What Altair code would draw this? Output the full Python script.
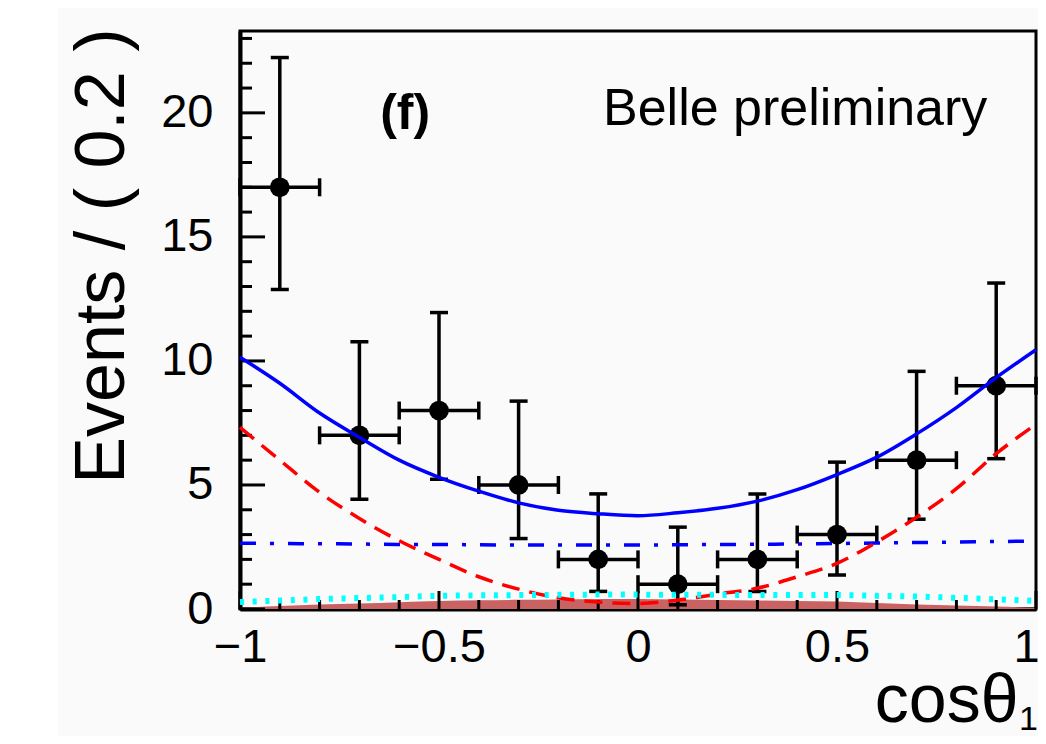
import altair as alt
import pandas as pd

# ---- data ----
bin_centers = [-0.9, -0.7, -0.5, -0.3, -0.1, 0.1, 0.3, 0.5, 0.7, 0.9]
counts = [17, 7, 8, 5, 2, 1, 2, 3, 6, 9]
err_low = [12.88, 4.42, 5.23, 2.84, 0.71, 0.17, 0.71, 1.37, 3.62, 6.06]
err_high = [22.23, 10.77, 11.95, 8.38, 4.64, 3.30, 4.64, 5.92, 9.58, 13.14]
bin_half_width = 0.1

curve_x = [-1.0, -0.9, -0.8, -0.7, -0.6, -0.5, -0.4, -0.3, -0.2, -0.1, 0.0,
           0.1, 0.2, 0.3, 0.4, 0.5, 0.6, 0.7, 0.8, 0.9, 1.0]
total_fit = [10.15, 9.1, 7.9, 6.92, 6.0, 5.31, 4.75, 4.28, 3.98, 3.84, 3.76,
             3.88, 4.06, 4.35, 4.81, 5.42, 6.12, 7.06, 8.12, 9.33, 10.45]
signal_red = [7.32, 6.0, 4.7, 3.65, 2.75, 2.0, 1.3, 0.8, 0.45, 0.28, 0.22,
              0.36, 0.6, 0.84, 1.3, 1.84, 2.7, 3.7, 4.85, 6.26, 7.45]
flat_blue = [2.65, 2.64, 2.63, 2.62, 2.6, 2.6, 2.59, 2.58, 2.58, 2.58, 2.58,
             2.59, 2.6, 2.61, 2.62, 2.64, 2.66, 2.68, 2.7, 2.72, 2.74]
cyan_dotted = [0.28, 0.34, 0.4, 0.44, 0.48, 0.53, 0.55, 0.56, 0.57, 0.58, 0.58,
               0.57, 0.57, 0.56, 0.56, 0.56, 0.53, 0.5, 0.45, 0.39, 0.33]
brown_fill = [0.05, 0.12, 0.18, 0.22, 0.27, 0.32, 0.35, 0.37, 0.38, 0.4, 0.4,
              0.38, 0.36, 0.34, 0.32, 0.3, 0.24, 0.18, 0.14, 0.1, 0.04]

x_major = [-1.0, -0.5, 0.0, 0.5, 1.0]
x_minor = [-0.9, -0.8, -0.7, -0.6, -0.4, -0.3, -0.2, -0.1,
           0.1, 0.2, 0.3, 0.4, 0.6, 0.7, 0.8, 0.9]
y_major = [0, 5, 10, 15, 20]
y_minor = [1, 2, 3, 4, 6, 7, 8, 9, 11, 12, 13, 14, 16, 17, 18, 19, 21, 22, 23]

labels_text = ["(f)", "Belle preliminary"]
labels_x = [-0.585, -0.088]
labels_y = [19.35, 19.5]

# ---- tables ----
pts = pd.DataFrame({"x": bin_centers, "y": counts, "lo": err_low, "hi": err_high})
pts["xl"] = pts["x"] - bin_half_width
pts["xr"] = pts["x"] + bin_half_width
curves = pd.DataFrame({"x": curve_x, "total": total_fit, "sig": signal_red,
                       "flat": flat_blue, "cyan": cyan_dotted, "bkg": brown_fill})

W, H = 796, 578
FONT = "Liberation Sans"
xs = alt.Scale(domain=[-1, 1], nice=False, zero=False)
ys = alt.Scale(domain=[0, 23.3], nice=False, zero=False)

x_axis = alt.Axis(values=x_major, title="cosθ", ticks=False, tickSize=0, grid=False,
                  format="~g",
                  labelFont=FONT, labelFontSize=47, labelColor="black", labelPadding=15,
                  labelFlush=False, labelOverlap=False,
                  labelOffset={"condition": {"test": "datum.value >= 1", "value": -10}, "value": 0},
                  titleFont=FONT, titleFontSize=68, titleFontWeight="normal", titleColor="black",
                  titleAlign="right", titleBaseline="alphabetic", titleX=778, titleY=112,
                  titleAngle=0,
                  domain=True, domainColor="black", domainWidth=4)
y_axis = alt.Axis(values=y_major, title="Events / ( 0.2 )", ticks=False, tickSize=0, grid=False,
                  labelFont=FONT, labelFontSize=47, labelColor="black", labelPadding=27,
                  labelFlush=False, labelOverlap=False, format="d",
                  titleFont=FONT, titleFontSize=70, titleFontWeight="normal", titleColor="black",
                  titleAngle=270, titleAlign="right", titleBaseline="middle",
                  titleX=-138, titleY=-3,
                  domain=True, domainColor="black", domainWidth=4)


def X(field):
    return alt.X(field, scale=xs, axis=x_axis)


def Y(field):
    return alt.Y(field, scale=ys, axis=y_axis)


# white strip at far left (page decoration)
strip = alt.Chart(pd.DataFrame({"a": [0]})).mark_rect(color="white").encode(
    x=alt.value(-232), x2=alt.value(-182), y=alt.value(-23), y2=alt.value(705))

fill = alt.Chart(curves).mark_area(color="#c96262", opacity=1, interpolate="monotone").encode(
    x=X("x:Q"), y=Y("bkg:Q"))

# inner ticks
xt_major = alt.Chart(pd.DataFrame({"t": x_major})).mark_rule(color="black", strokeWidth=3).encode(
    x=X("t:Q"), y=alt.value(H), y2=alt.value(H - 18))
xt_minor = alt.Chart(pd.DataFrame({"t": x_minor})).mark_rule(color="black", strokeWidth=3).encode(
    x=X("t:Q"), y=alt.value(H), y2=alt.value(H - 9))
yt_major = alt.Chart(pd.DataFrame({"t": y_major})).mark_rule(color="black", strokeWidth=3).encode(
    y=Y("t:Q"), x=alt.value(0), x2=alt.value(25))
yt_minor = alt.Chart(pd.DataFrame({"t": y_minor})).mark_rule(color="black", strokeWidth=3).encode(
    y=Y("t:Q"), x=alt.value(0), x2=alt.value(12))

base = alt.Chart(pts)
vbar = base.mark_rule(color="black", strokeWidth=3.5).encode(
    x=X("x:Q"), y=Y("lo:Q"), y2="hi:Q")
hbar = base.mark_rule(color="black", strokeWidth=3.5).encode(
    x=X("xl:Q"), x2="xr:Q", y=Y("y:Q"))
tick_kw = dict(color="black", size=18, thickness=3.5, opacity=1)
cap_lo = base.mark_tick(orient="horizontal", **tick_kw).encode(x=X("x:Q"), y=Y("lo:Q"))
cap_hi = base.mark_tick(orient="horizontal", **tick_kw).encode(x=X("x:Q"), y=Y("hi:Q"))
cap_l = base.mark_tick(orient="vertical", **tick_kw).encode(x=X("xl:Q"), y=Y("y:Q"))
cap_r = base.mark_tick(orient="vertical", **tick_kw).encode(x=X("xr:Q"), y=Y("y:Q"))
dots = base.mark_circle(color="black", opacity=1, size=390).encode(x=X("x:Q"), y=Y("y:Q"))

cbase = alt.Chart(curves)
flat_line = cbase.mark_line(color="#0000ff", strokeWidth=3.5, strokeDash=[16, 14, 4, 14],
                            interpolate="monotone").encode(x=X("x:Q"), y=Y("flat:Q"))
sig_line = cbase.mark_line(color="#ff0000", strokeWidth=3.5, strokeDash=[18, 10],
                           interpolate="monotone").encode(x=X("x:Q"), y=Y("sig:Q"))
cyan_line = cbase.mark_line(color="#00ffff", strokeWidth=6, strokeDash=[4, 8.7], strokeCap="butt",
                            interpolate="monotone").encode(x=X("x:Q"), y=Y("cyan:Q"))
total_line = cbase.mark_line(color="#0000ff", strokeWidth=3.5,
                             interpolate="monotone").encode(x=X("x:Q"), y=Y("total:Q"))

ann = pd.DataFrame({"t": labels_text, "x": labels_x, "y": labels_y})
ann_f = alt.Chart(ann.iloc[[0]]).mark_text(font=FONT, fontSize=50, fontWeight="bold",
                                           color="black", align="center",
                                           baseline="alphabetic").encode(
    x=X("x:Q"), y=Y("y:Q"), text="t:N")
ann_b = alt.Chart(ann.iloc[[1]]).mark_text(font=FONT, fontSize=52, color="black", align="left",
                                           baseline="alphabetic").encode(
    x=X("x:Q"), y=Y("y:Q"), text="t:N")

sub = alt.Chart(pd.DataFrame({"t": ["1"]})).mark_text(font=FONT, fontSize=34, color="black",
                                                      align="left", baseline="alphabetic").encode(
    text="t:N", x=alt.value(779), y=alt.value(699))

chart = alt.layer(
    strip, fill, xt_major, xt_minor, yt_major, yt_minor,
    vbar, hbar, cap_lo, cap_hi, cap_l, cap_r, dots,
    flat_line, sig_line, cyan_line, total_line,
    ann_f, ann_b, sub
).properties(
    width=W, height=H,
    background="#fafafa",
    padding={"left": 232, "top": 23, "right": 2, "bottom": 127},
    autosize=alt.AutoSizeParams(type="none"),
).configure_view(
    stroke="black", strokeWidth=3, fill="#fafafa"
).configure_axis(zindex=1)

chart.save("out.html", embed_options={"renderer": "svg", "actions": False})
